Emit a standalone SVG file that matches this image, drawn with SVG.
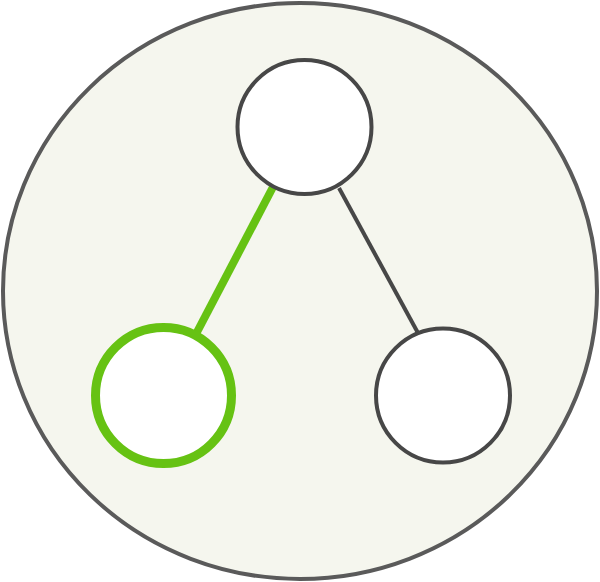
<svg xmlns="http://www.w3.org/2000/svg" width="600" height="582" viewBox="0 0 600 582">
<style>
.node{fill:#ffffff;stroke:#474747;stroke-width:4}
.sel{fill:#ffffff;stroke:#66c213;stroke-width:9}
.edge{stroke:#474747;stroke-width:4;fill:none}
.edge-sel{stroke:#66c213;stroke-width:8;fill:none}
</style>
<rect width="600" height="582" fill="#ffffff"/>
<g id="container">
<ellipse cx="300" cy="291" rx="297" ry="288" fill="#f5f6ee" stroke="#5a5a5a" stroke-width="4"/>
</g>
<g id="connectors">
<line class="edge-sel" x1="273" y1="187" x2="196" y2="334"/>
<line class="edge" x1="339" y1="188" x2="418" y2="333"/>
</g>
<g id="node-top">
<circle class="node" cx="304.5" cy="127" r="67"/>
</g>
<g id="node-left">
<circle class="sel" cx="163.5" cy="395.5" r="68"/>
</g>
<g id="node-right">
<circle class="node" cx="443" cy="395.5" r="67"/>
</g>
</svg>
